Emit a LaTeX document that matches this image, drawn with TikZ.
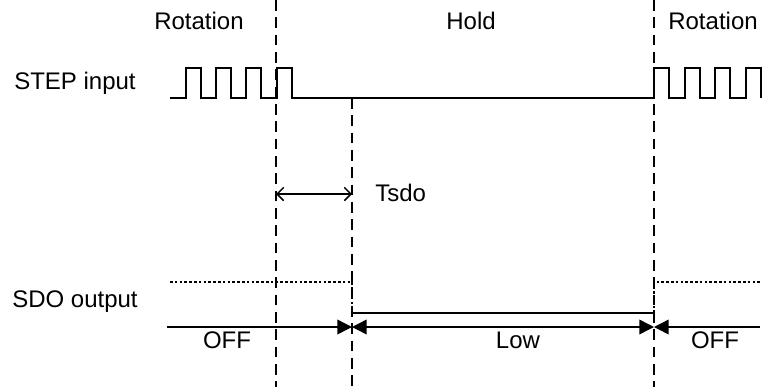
\documentclass[tikz,border=0pt]{standalone}
\usepackage{fontspec}
\setmainfont{Liberation Sans}
\usetikzlibrary{arrows.meta}
\tikzset{
  txt/.style={font=\fontsize{18}{20}\selectfont, inner sep=0pt, anchor=base},
  wave/.style={line width=1.3pt, line join=miter},
  guide/.style={line width=1.1pt, dash pattern=on 8pt off 5pt},
  dotline/.style={line width=1pt, dash pattern=on 2pt off 1.6pt},
  edge/.style={line width=1.1pt, -{Triangle[length=11pt, width=11pt]}},
  bothedge/.style={line width=1.1pt, {Triangle[length=11pt, width=11pt]}-{Triangle[length=11pt, width=11pt]}},
  span/.style={line width=1.1pt, {Straight Barb[length=5pt, width=10pt]}-{Straight Barb[length=5pt, width=10pt]}},
}

\begin{document}
\begin{tikzpicture}[x=0.75pt, y=-0.75pt]
  \useasboundingbox (0,0) rectangle (770,387);
  % phase labels
  \node[txt] (rot1) at (199,29) {Rotation};
  \node[txt] (hold) at (471,29) {Hold};
  \node[txt] (rot2) at (713,29) {Rotation};
  \node[txt, anchor=base west] (step) at (14,89) {STEP input};
  \node[txt, anchor=base west] (sdo) at (12,307) {SDO output};
  % time marks
  \coordinate (m1top) at (276,0);   \coordinate (m1bot) at (276,387);
  \coordinate (m2top) at (352,98);  \coordinate (m2bot) at (352,387);
  \coordinate (m3top) at (654,0);   \coordinate (m3bot) at (654,387);
  \draw[guide] (m1top) -- (m1bot);
  \draw[guide] (m2top) -- (m2bot);
  \draw[guide] (m3top) -- (m3bot);
  % STEP pulses
  \draw[wave] (170,98) foreach \x in {186,216,246,277} {-- (\x,98) -- (\x,68) -- ++(15,0) -- ++(0,30)}
    -- (654,98) foreach \x in {654,685,715,746} {-- (\x,98) -- (\x,68) -- ++(15,0) -- ++(0,30)};
  % Tsdo
  \coordinate (ta) at (276,194);
  \coordinate (tb) at (352,194);
  \draw[span] (ta) -- (tb);
  \node[txt, anchor=base west] (tsdo) at (375,201) {Tsdo};
  % SDO output
  \draw[dotline] (170,282) -- (352,282) -- (352,313);
  \draw[wave] (352,313) -- (654,313);
  \draw[dotline] (654,313) -- (654,282) -- (760,282);
  % states
  \coordinate (s0) at (167,327);
  \coordinate (s1) at (352,327);
  \coordinate (s2) at (654,327);
  \coordinate (s3) at (760,327);
  \draw[edge] (s0) -- (s1);
  \draw[bothedge] (s1) -- (s2);
  \draw[edge] (s3) -- (s2);
  \node[txt] (off1) at (227,348) {OFF};
  \node[txt] (low) at (518,348) {Low};
  \node[txt] (off2) at (715,348) {OFF};
\end{tikzpicture}
\end{document}
